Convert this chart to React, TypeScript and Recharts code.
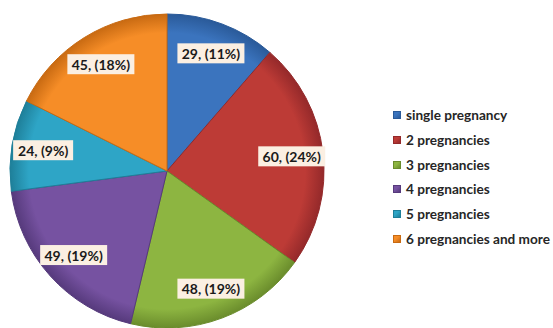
import React from "react";
import { PieChart, Pie, Cell, Legend } from "recharts";

const categories = [
  "single pregnancy",
  "2 pregnancies",
  "3 pregnancies",
  "4 pregnancies",
  "5 pregnancies",
  "6 pregnancies and more",
];
const counts = [29, 60, 48, 49, 24, 45];
const colors = ["#3B74BE", "#BD3B36", "#8DB541", "#7652A1", "#2EA5C6", "#F68D27"];
const edgeColors = ["#2A5A99", "#94292A", "#6A8C2C", "#563A7C", "#1E7F99", "#C86A12"];

const data = categories.map((name, i) => ({ name, value: counts[i] }));
const total = counts.reduce((a, b) => a + b, 0);
const RAD = Math.PI / 180;
const FONT = "Lato, 'Open Sans', 'Liberation Sans', sans-serif";

const renderLabel = (props: any) => {
  const { cx, cy, midAngle, outerRadius, value } = props;
  const r = outerRadius * 0.8;
  const x = cx + r * Math.cos(-midAngle * RAD);
  const y = cy + r * Math.sin(-midAngle * RAD);
  const pct = Math.round((value / total) * 100);
  const text = `${value}, (${pct}%)`;
  const w = text.length * 7 + 4;
  const h = 20;
  return (
    <g>
      <rect x={x - w / 2} y={y - h / 2} width={w} height={h} fill="#FBEFE2" />
      <text
        x={x}
        y={y}
        textAnchor="middle"
        dominantBaseline="central"
        fontFamily={FONT}
        fontWeight={700}
        fontSize={14}
        fill="#1a1a1a"
      >
        {text}
      </text>
    </g>
  );
};

const renderLegend = (props: any) => {
  const { payload } = props;
  return (
    <div style={{ fontFamily: FONT, fontWeight: 700, fontSize: 13.6, color: "#262626" }}>
      {payload.map((entry: any, i: number) => (
        <div key={i} style={{ display: "flex", alignItems: "center", height: 24.7 }}>
          <span
            style={{
              display: "inline-block",
              width: 8,
              height: 8,
              marginRight: 5,
              background: `linear-gradient(135deg, ${colors[i]} 40%, ${edgeColors[i]})`,
              border: `1px solid ${edgeColors[i]}`,
              boxSizing: "border-box",
            }}
          />
          <span>{categories[i]}</span>
        </div>
      ))}
    </div>
  );
};

export default function App() {
  return (
    <div style={{ position: "absolute", left: 0, top: 0, background: "#fff" }}>
      <PieChart width={553} height={328} margin={{ top: 0, right: 0, bottom: 0, left: 0 }}>
        <defs>
          {colors.map((c, i) => (
            <radialGradient
              key={i}
              id={`grad${i}`}
              cx={167}
              cy={171}
              r={157}
              gradientUnits="userSpaceOnUse"
            >
              <stop offset="0%" stopColor={c} />
              <stop offset="88%" stopColor={c} />
              <stop offset="100%" stopColor={edgeColors[i]} />
            </radialGradient>
          ))}
        </defs>
        <Pie
          data={data}
          dataKey="value"
          nameKey="name"
          cx={167}
          cy={171}
          outerRadius={157}
          startAngle={90}
          endAngle={-270}
          label={renderLabel}
          labelLine={false}
          isAnimationActive={false}
        >
          {data.map((_, i) => (
            <Cell key={i} fill={`url(#grad${i})`} stroke={edgeColors[i]} strokeWidth={1} />
          ))}
        </Pie>
        <Legend
          layout="vertical"
          align="right"
          verticalAlign="top"
          content={renderLegend}
          wrapperStyle={{ left: 393, top: 103, width: 160 }}
        />
      </PieChart>
    </div>
  );
}
